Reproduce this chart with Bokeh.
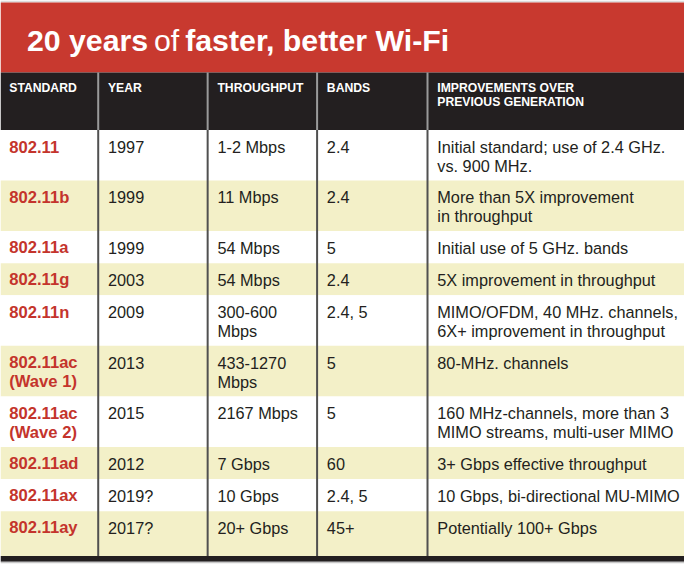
from bokeh.plotting import figure
from bokeh.models import ColumnDataSource, Range1d
from bokeh.core.properties import value
from bokeh.embed import file_html
from bokeh.resources import INLINE

# ---- data ----
title_parts = ["20 years", "of", "faster, better Wi-Fi"]
headers = ["STANDARD", "YEAR", "THROUGHPUT", "BANDS",
           "IMPROVEMENTS OVER\nPREVIOUS GENERATION"]
standards = ["802.11", "802.11b", "802.11a", "802.11g", "802.11n",
             "802.11ac\n(Wave 1)", "802.11ac\n(Wave 2)", "802.11ad",
             "802.11ax", "802.11ay"]
years = ["1997", "1999", "1999", "2003", "2009", "2013", "2015", "2012",
         "2019?", "2017?"]
throughputs = ["1-2 Mbps", "11 Mbps", "54 Mbps", "54 Mbps", "300-600\nMbps",
               "433-1270\nMbps", "2167 Mbps", "7 Gbps", "10 Gbps", "20+ Gbps"]
bands = ["2.4", "2.4", "5", "2.4", "2.4, 5", "5", "5", "60", "2.4, 5", "45+"]
improvements = [
    "Initial standard; use of 2.4 GHz.\nvs. 900 MHz.",
    "More than 5X improvement\nin throughput",
    "Initial use of 5 GHz. bands",
    "5X improvement in throughput",
    "MIMO/OFDM, 40 MHz. channels,\n6X+ improvement in throughput",
    "80-MHz. channels",
    "160 MHz-channels, more than 3\nMIMO streams, multi-user MIMO",
    "3+ Gbps effective throughput",
    "10 Gbps, bi-directional MU-MIMO",
    "Potentially 100+ Gbps",
]

# ---- layout / style ----
W, H = 684, 572
S = W / 700.0
RED = "#c8392f"
LABEL_RED = "#c4342c"
BLACK = "#231f20"
YELLOW = "#f3f0c8"
TEXT = "#231f20"
FONT = "Liberation Sans"
SHIFT = 0.31  # bokeh places the line box bottom at y; correct to baseline

p = figure(width=W, height=H, output_backend="svg", toolbar_location=None,
           x_range=Range1d(0, 700), y_range=Range1d(588, 0),
           x_axis_type=None, y_axis_type=None, min_border=0,
           outline_line_color=None, background_fill_color="white",
           border_fill_color="white")
p.grid.visible = False

columns = [standards, years, throughputs, bands, improvements]
col_x = [9, 110, 222, 334, 447]
sep_x = [100, 212, 324, 437]
header_top, header_bot = 74, 133

# row geometry from line counts
tops, bots = [], []
y = header_bot
nrows = len(standards)
for i in range(nrows):
    n = max(len(c[i].split("\n")) for c in columns)
    h = 14 + 19 * n
    if i == nrows - 1:
        h += 13
    tops.append(y)
    bots.append(y + h)
    y += h
table_bot = y

# backgrounds
p.quad(left=0, right=700, top=0, bottom=2, fill_color="#dcdcdc", line_color=None)
p.quad(left=0, right=700, top=2, bottom=header_top, fill_color=RED, line_color=None)
p.quad(left=0, right=700, top=header_top, bottom=header_bot, fill_color=BLACK, line_color=None)
row_src = ColumnDataSource(dict(
    top=tops, bottom=bots,
    color=["white" if i % 2 == 0 else YELLOW for i in range(nrows)]))
p.quad(left=0, right=700, top="top", bottom="bottom", fill_color="color",
       line_color=None, source=row_src)
p.quad(left=0, right=700, top=table_bot, bottom=table_bot + 6,
       fill_color=BLACK, line_color=None)
p.quad(left=0, right=700, top=table_bot + 6, bottom=table_bot + 7.5,
       fill_color="#c8c8c8", line_color=None)

# column separators
p.segment(x0=sep_x, x1=sep_x, y0=[header_top] * 4, y1=[header_bot] * 4,
          line_color="#9a9a9a", line_width=2)
p.segment(x0=sep_x, x1=sep_x, y0=[header_bot] * 4, y1=[table_bot] * 4,
          line_color="#505050", line_width=2)

# title
TFS = 31.0
title_x = [27, 157, 189]
title_style = ["bold", "normal", "bold"]
for t, x, st in zip(title_parts, title_x, title_style):
    p.text(x=[x], y=[51 - SHIFT * TFS], text=[t], text_color="white",
           text_font=value(FONT), text_font_style=st,
           text_font_size=f"{TFS * S:.1f}px", text_baseline="alphabetic",
           text_align="left")

# header labels
HFS = 12.5
hx, hy, ht = [], [], []
for j, hd in enumerate(headers):
    for k, line in enumerate(hd.split("\n")):
        hx.append(col_x[j]); hy.append(94 + 14 * k - SHIFT * HFS); ht.append(line)
p.text(x=hx, y=hy, text=ht, text_color="white", text_font=value(FONT),
       text_font_style="bold", text_font_size=f"{HFS * S:.1f}px",
       text_baseline="alphabetic", text_align="left")

# body cells
BFS = 16.7
LFS = 17.0
bx, by, bt = [], [], []
sx, sy, st_ = [], [], []
for i in range(nrows):
    for j, col in enumerate(columns):
        for k, line in enumerate(col[i].split("\n")):
            yy = tops[i] + 22.5 + 19.5 * k
            if j == 0:
                sx.append(col_x[j]); sy.append(yy - SHIFT * LFS); st_.append(line)
            else:
                bx.append(col_x[j]); by.append(yy - SHIFT * BFS); bt.append(line)
p.text(x=sx, y=sy, text=st_, text_color=LABEL_RED, text_font=value(FONT),
       text_font_style="bold", text_font_size=f"{LFS * S:.1f}px",
       text_baseline="alphabetic", text_align="left")
p.text(x=bx, y=by, text=bt, text_color=TEXT, text_font=value(FONT),
       text_font_style="normal", text_font_size=f"{BFS * S:.1f}px",
       text_baseline="alphabetic", text_align="left")

open("out.html", "w").write(file_html(p, INLINE))
